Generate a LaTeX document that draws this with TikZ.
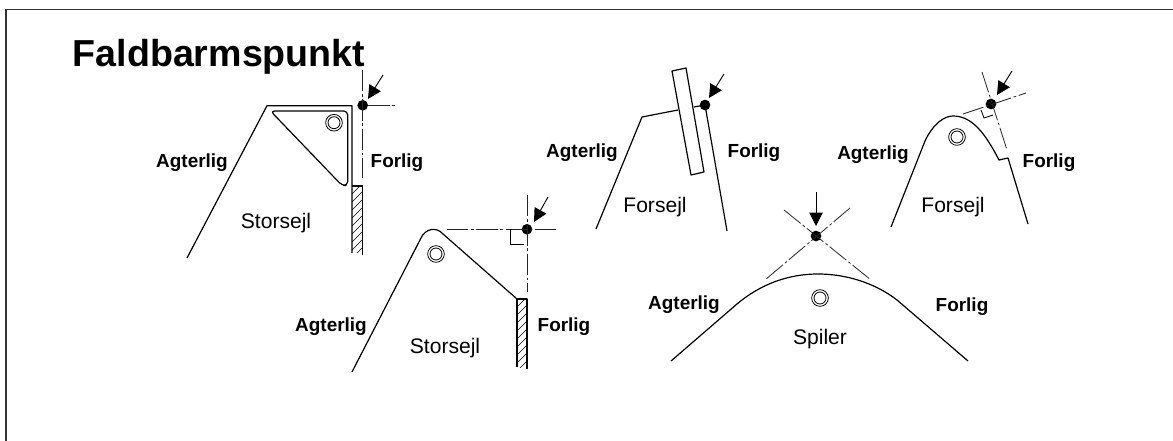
\documentclass[tikz,border=0pt]{standalone}
\usepackage{fontspec}
\setmainfont{Liberation Sans}
\usetikzlibrary{arrows.meta}
\tikzset{
  x=0.75pt,y=-0.75pt,
  sail/.style={line width=0.9pt,line join=round},
  axisline/.style={line width=0.6pt,dash pattern=on 16pt off 2pt on 2pt off 2pt,black!85},
  mark90/.style={line width=0.6pt},
  pointer/.style={line width=0.7pt,-{Triangle[length=10pt,width=10pt]}},
  pointdot/.style={circle,fill=black,inner sep=0pt,minimum size=8pt},
  ringo/.style={circle,draw,line width=0.6pt,inner sep=0pt,minimum size=12.5pt},
  ringi/.style={circle,draw,line width=0.6pt,inner sep=0pt,minimum size=9pt},
  lbl/.style={font=\fontsize{14.2}{16}\selectfont\bfseries,inner sep=0pt},
  sailname/.style={font=\fontsize{15.8}{18}\selectfont,inner sep=0pt},
}
\newcommand{\hatching}[4]{% x1,y1,x2,y2
  \begin{scope}
    \clip (#1,#2) rectangle (#3,#4);
    \foreach \k in {0,8,...,96} {\draw[line width=0.5pt] (#1,#2+\k) -- ++(11,-11);}
  \end{scope}}
\begin{document}
\begin{tikzpicture}
\useasboundingbox (0,0) rectangle (1173,441);
\draw[line width=0.9pt,black!80] (6,441) -- (6,9.5) -- (1173,9.5);
\node[anchor=base west,inner sep=0pt,font=\fontsize{28.2}{32}\selectfont\bfseries] (title) at (72.5,67) {Faldbarmspunkt};

% --- Storsejl 1
\node[pointdot] (d1) at (362.7,105.3) {};
\coordinate (d1t) at (362.7,70); \coordinate (d1b) at (362.7,178); \coordinate (d1r) at (397,105.3);
\draw[axisline] (d1t) -- (d1b);
\draw[axisline] (d1) -- (d1r);
\coordinate (a1) at (383,75); \coordinate (a1e) at (368,99);
\draw[pointer] (a1) -- (a1e);
\draw[sail] (187,258) -- (267,105.7) -- (352,105.7) -- (352,253);
\draw[sail] (352,186) -- (362.7,186) -- (362.7,255);
\hatching{352}{186}{362.7}{253}
\draw[sail,rounded corners=3pt] (270.5,111) -- (347.7,111) -- (347.7,185.5) -- (342,185.5) -- cycle;
\node[ringo] (r1) at (334,122.7) {}; \node[ringi] (r1i) at (334,122.7) {};
\node[lbl] (ag1) at (192,163) {Agterlig};
\node[lbl] (fo1) at (397,163) {Forlig};
\node[sailname] (st1) at (276,223) {Storsejl};

% --- Storsejl 2
\node[pointdot] (d2) at (527,229.3) {};
\coordinate (d2l) at (447,229.3); \coordinate (d2r) at (558,229.3);
\coordinate (d2t) at (527,195); \coordinate (d2b) at (527,292);
\draw[axisline] (d2l) -- (d2r);
\draw[axisline] (d2t) -- (d2b);
\draw[mark90] (510,229.3) -- (510,244) -- (524,244);
\draw[pointer] (548,197) -- (534,222);
\draw[sail] (352,372) -- (421,238) .. controls (425,229) and (436,226) .. (443,234) -- (517,299);
\draw[sail] (517,299) -- (517,367);
\draw[sail] (517,299) -- (527,299) -- (527,369);
\hatching{517}{299}{527}{367}
\node[ringo] (r2) at (436,254) {}; \node[ringi] (r2i) at (436,254) {};
\node[lbl] (ag2) at (331,327) {Agterlig};
\node[lbl] (fo2) at (564,327) {Forlig};
\node[sailname] (st2) at (445,348) {Storsejl};

% --- Forsejl 1
\node[pointdot] (d3) at (705,105) {};
\draw[sail] (596,229) -- (642,117) -- (678,110);
\draw[sail] (694,107) -- (d3.center) -- (727,231);
\draw[sail] (672,71) -- (686,68) -- (704,172) -- (691,175) -- cycle;
\draw[pointer] (724,74) -- (709,98);
\node[lbl] (ag3) at (582,153) {Agterlig};
\node[lbl] (fo3) at (754,153) {Forlig};
\node[sailname] (fs3) at (655,207) {Forsejl};

% --- Forsejl 2
\node[pointdot] (d4) at (991,104) {};
\draw[axisline] (982,72) -- (1007,150);
\draw[axisline] (963,114) -- (1026,93);
\draw[mark90] (981,110) -- (984,118) -- (993,115);
\draw[pointer] (1012,71) -- (997,95);
\draw[sail] (891,227) -- (925,141) .. controls (933,124) and (944,116) .. (953,116)
  .. controls (972,116) and (985,133) .. (999,160) -- (1008,158) -- (1028,224);
\node[ringo] (r4) at (957,137) {}; \node[ringi] (r4i) at (957,137) {};
\node[lbl] (ag4) at (873,155) {Agterlig};
\node[lbl] (fo4) at (1049,163) {Forlig};
\node[sailname] (fs4) at (953,207) {Forsejl};

% --- Spiler
\node[pointdot] (d5) at (816,236) {};
\draw[axisline] (784,210) -- (871,280);
\draw[axisline] (850,208) -- (765,280);
\draw[pointer] (816,192) -- (816,226);
\draw[sail] (671,361) -- (737,304) .. controls (762,283) and (790,274) .. (818,274)
  .. controls (846,274) and (875,283) .. (897,300) -- (968,361);
\node[ringo] (r5) at (820,298) {}; \node[ringi] (r5i) at (820,298) {};
\node[lbl] (ag5) at (684,305) {Agterlig};
\node[lbl] (fo5) at (962,307) {Forlig};
\node[sailname] (sp5) at (820,339) {Spiler};
\end{tikzpicture}
\end{document}
